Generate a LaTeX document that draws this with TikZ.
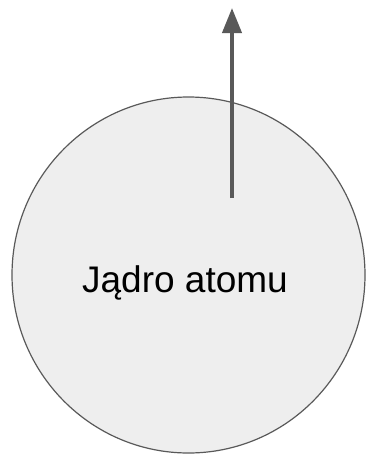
\documentclass[tikz,border=0pt]{standalone}
\usepackage{fontspec}
\setmainfont{Liberation Sans}
\usetikzlibrary{arrows.meta,shapes.geometric}
\definecolor{edge}{HTML}{595959}
\definecolor{fillg}{HTML}{EEEEEE}
\tikzset{
  nucleus/.style={ellipse, draw=edge, line width=1.2pt, fill=fillg, inner sep=0pt,
    minimum width=353pt, minimum height=356pt},
  labeltext/.style={inner sep=0pt, anchor=base, font=\fontsize{37}{44}\selectfont},
  vecarrow/.style={draw=edge, line width=4pt, -{Triangle[length=25pt,width=19pt]}}
}
\begin{document}
\begin{tikzpicture}[x=1pt,y=-1pt]
\useasboundingbox (0,0) rectangle (366,455);
\node[nucleus] (jadro) at (188.5,275) {};
\node[labeltext] (napis) at (185,292) {Jądro atomu};
\coordinate (start) at (232,198);
\coordinate (tip) at (232,8);
\draw[vecarrow] (start) -- (tip);
\end{tikzpicture}
\end{document}
